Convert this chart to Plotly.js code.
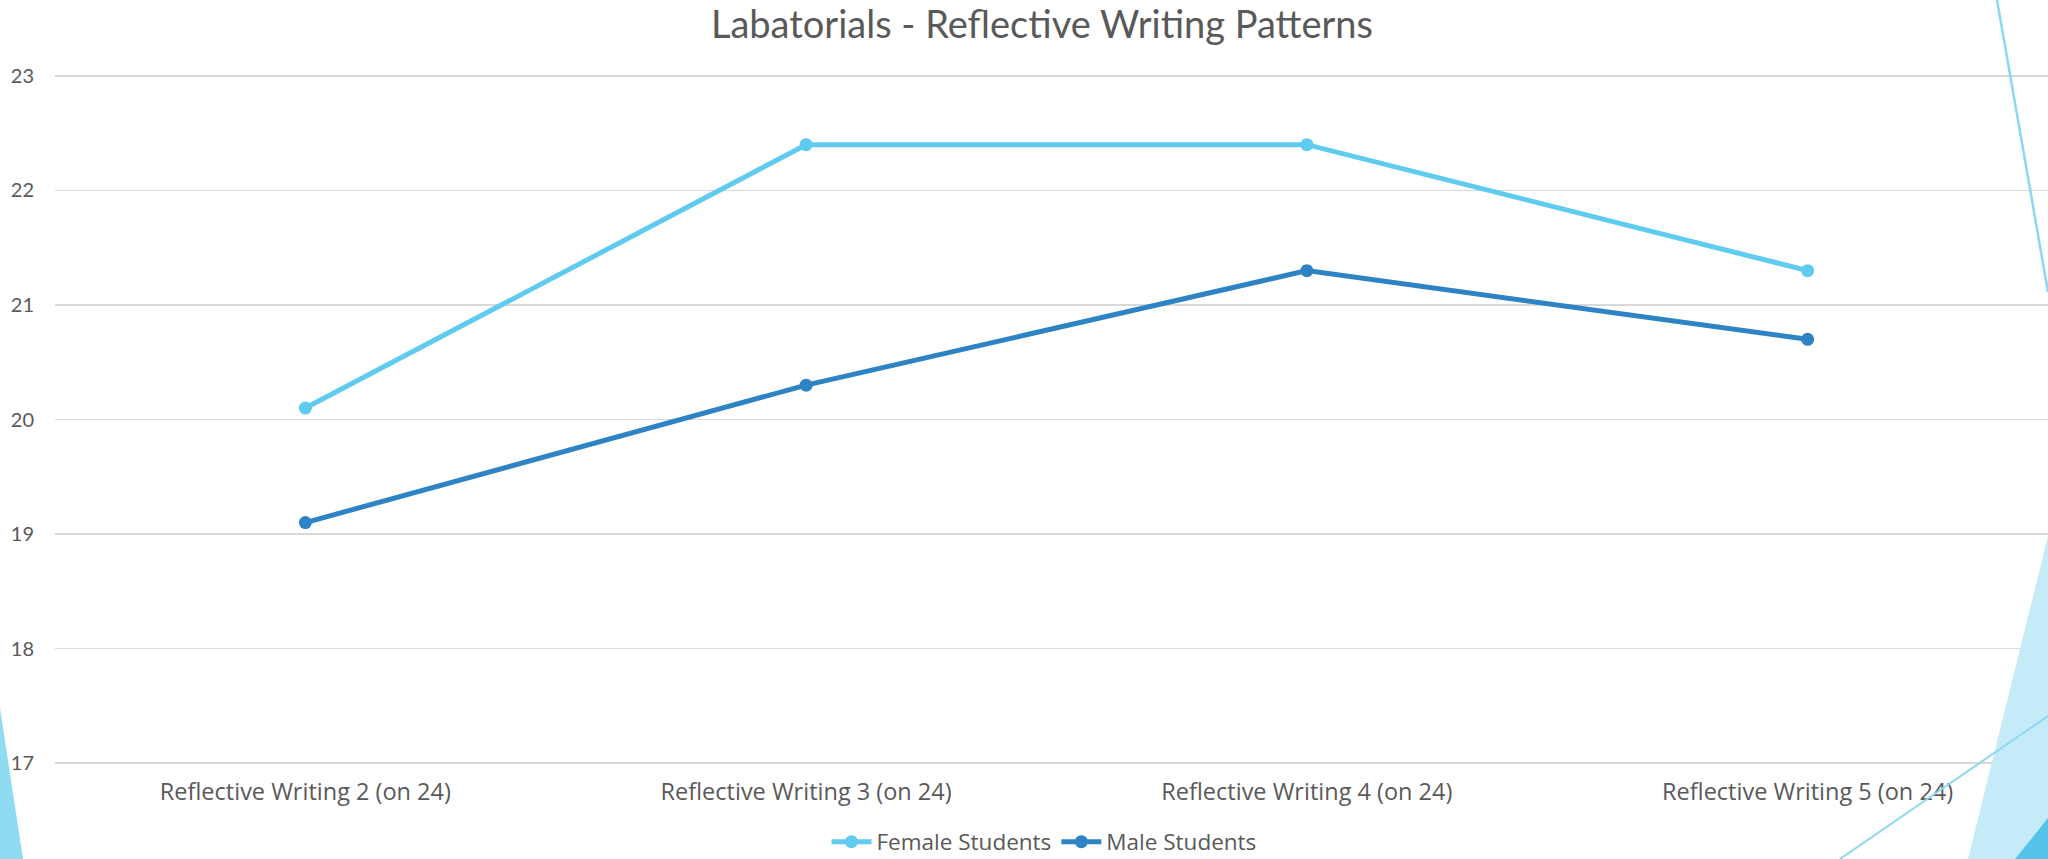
<!DOCTYPE html>
<html>
<head>
<meta charset="utf-8">
<script src="https://cdn.plot.ly/plotly-3.0.1.min.js"></script>
<style>html,body{margin:0;padding:0;background:#fff;}#chart{width:2048px;height:859px;}</style>
</head>
<body>
<div id="chart"></div>
<script>
var categories = ["Reflective Writing 2 (on 24)", "Reflective Writing 3 (on 24)", "Reflective Writing 4 (on 24)", "Reflective Writing 5 (on 24)"];
var femaleStudents = [20.1, 22.4, 22.4, 21.3];
var maleStudents = [19.1, 20.3, 21.3, 20.7];
var yTicks = [17, 18, 19, 20, 21, 22, 23];

var W = 2048, H = 859;
var L = 55, R = 0, T = 73, B = 93;
var pw = W - L - R, ph = H - T - B;
function px(x){ return (x - L) / pw; }
function py(y){ return (H - B - y) / ph; }
function path(pts){
  return pts.map(function(p,i){ return (i ? 'L' : 'M') + px(p[0]).toFixed(5) + ',' + py(p[1]).toFixed(5); }).join(' ') + ' Z';
}
function seg(a,b){
  return 'M' + px(a[0]).toFixed(5) + ',' + py(a[1]).toFixed(5) + ' L' + px(b[0]).toFixed(5) + ',' + py(b[1]).toFixed(5);
}

var font = 'Lato, "Open Sans", sans-serif';
var font2 = '"Open Sans", Lato, sans-serif';
var traces = [
  {x: categories, y: femaleStudents, name: 'Female Students', type: 'scatter', mode: 'lines+markers',
   line: {color: '#5ECBEF', width: 5}, marker: {color: '#5ECBEF', size: 13}},
  {x: categories, y: maleStudents, name: 'Male Students', type: 'scatter', mode: 'lines+markers',
   line: {color: '#2E83C4', width: 5}, marker: {color: '#2E83C4', size: 13}}
];

var shapes = [
  {type: 'path', xref: 'paper', yref: 'paper', layer: 'above', line: {width: 0}, fillcolor: '#C5EAF8',
   path: path([[2048,536],[1968,859],[2048,859]])},
  {type: 'path', xref: 'paper', yref: 'paper', layer: 'above', line: {width: 0}, fillcolor: '#55C4EA',
   path: path([[2048,818],[2015,859],[2048,859]])},
  {type: 'path', xref: 'paper', yref: 'paper', layer: 'above', line: {color: '#8CD8F2', width: 2},
   path: seg([1840,859],[2048,716])},
  {type: 'path', xref: 'paper', yref: 'paper', layer: 'above', line: {color: '#8CD8F2', width: 2.5},
   path: seg([1997,0],[2048,292])},
  {type: 'path', xref: 'paper', yref: 'paper', layer: 'above', line: {width: 0}, fillcolor: '#8FDBF2',
   path: path([[0,708],[23,859],[0,859]])}
];

var layout = {
  width: W, height: H,
  paper_bgcolor: '#ffffff', plot_bgcolor: '#ffffff',
  margin: {l: L, r: R, t: T, b: B, pad: 0, autoexpand: false},
  font: {family: font2, color: '#595959', size: 21},
  title: {text: 'Labatorials - Reflective Writing Patterns', font: {family: font, size: 38, color: '#595959'},
          x: 1042/W, xanchor: 'center', xref: 'container', y: 1 - 25/H, yanchor: 'middle', yref: 'container'},
  xaxis: {type: 'category', range: [-0.5, 3.48], showgrid: false, zeroline: false, showline: false,
          ticks: '', tickfont: {family: font2, size: 23.5, color: '#595959'}, ticklabelstandoff: 9, fixedrange: true},
  yaxis: {range: [16.974, 23.026], tickvals: yTicks, showgrid: true, gridcolor: '#D9D9D9', gridwidth: 1.5,
          zeroline: false, showline: false, ticks: '', ticklabelstandoff: 20,
          tickfont: {family: font, size: 20, color: '#595959'}, fixedrange: true},
  showlegend: true,
  legend: {orientation: 'h', x: (1044 - L)/pw, xanchor: 'center', y: py(842), yanchor: 'middle',
           font: {family: font2, size: 22.5, color: '#595959'}, bgcolor: 'rgba(0,0,0,0)', itemwidth: 40,
           tracegroupgap: 0},
  shapes: shapes
};

Plotly.newPlot('chart', traces, layout, {displayModeBar: false, staticPlot: true});
</script>
</body>
</html>
